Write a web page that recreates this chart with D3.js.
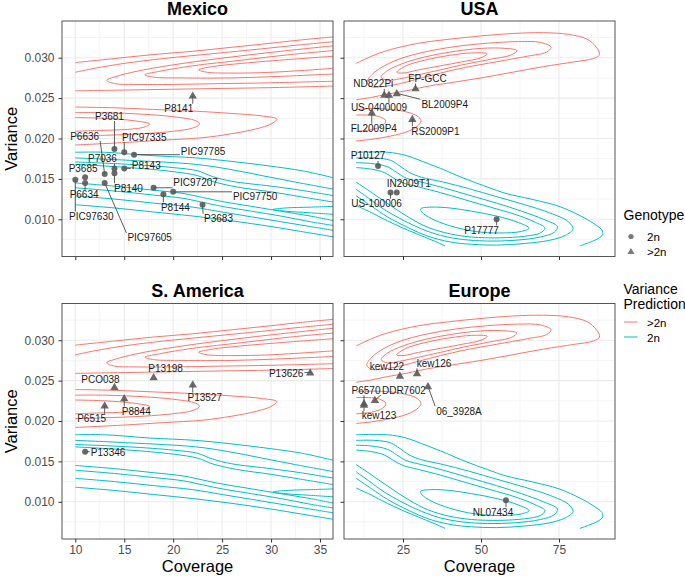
<!DOCTYPE html>
<html><head><meta charset="utf-8">
<script src="https://cdnjs.cloudflare.com/ajax/libs/d3/7.8.5/d3.min.js"></script>
<style>
body{margin:0;background:#fff}
svg{display:block}
text{font-family:Arial,"Liberation Sans",sans-serif}
</style></head>
<body><svg id="chart" width="685" height="580"></svg>
<script>
// ---------------- DATA ----------------
const panelNames = ["Mexico", "USA", "S. America", "Europe"];
const xTicksNarrow = [10, 15, 20, 25, 30, 35];
const xTicksWide = [25, 50, 75];
const yTicks = [0.010, 0.015, 0.020, 0.025, 0.030];
const yTickLabels = ["0.010", "0.015", "0.020", "0.025", "0.030"];
const genotypes = ["2n", ">2n"];
const predictions = [">2n", "2n"];

// density contours (coverage, variance) for Mexico / S. America panels, >2n prediction
const contoursNarrowPoly = [
  [[10,0.0294],[14,0.0299],[18,0.0304],[22,0.0308],[26,0.0313],[30,0.0318],[33,0.0322],[36.5,0.0326]],
  [[10,0.0282],[12,0.0287],[15,0.0293],[19,0.0299],[24,0.0305],[29,0.0311],[33,0.0316],[36.5,0.0320]],
  [[36.5,0.0315],[31,0.0308],[26,0.0301],[21,0.0293],[17,0.0285],[14.5,0.0278],[13.2,0.0272],[14,0.0268],[16,0.0267],[20,0.0267],[25,0.0268],[30,0.0269],[36.5,0.0271]],
  [[36.5,0.0309],[32,0.0304],[27,0.0297],[22,0.0290],[18.5,0.0283],[17.1,0.0279],[18,0.0276],[21,0.0275],[26,0.0275],[31,0.0277],[36.5,0.0280]],
  [[36.5,0.0302],[32,0.0298],[27,0.0293],[24,0.0289],[22.6,0.0285],[23.5,0.0282],[26,0.0281],[30,0.0282],[36.5,0.0287]],
  [[10,0.0259],[15,0.0260],[20,0.0261],[25,0.0262],[30,0.0263],[36.5,0.0265]],
  [[10,0.0239],[14,0.0238],[18,0.0236],[22,0.0234],[26,0.0231],[29,0.0228],[30.6,0.0224],[30,0.0218],[28.5,0.0212],[26,0.0206],[23,0.0201],[19,0.0198],[15,0.0195],[10,0.0192]],
  [[10,0.0232],[13,0.0232],[17,0.0230],[20,0.0227],[22.3,0.0222],[22.7,0.0218],[22,0.0213],[20,0.0209],[17,0.0206],[13,0.0204],[10,0.0203]],
  [[10,0.0226],[13,0.0225],[16,0.0222],[17.6,0.0218],[17,0.0214],[15,0.0211],[12.5,0.0210],[10,0.0209]]
];
// Mexico / S. America panels, 2n prediction
const contoursNarrowDip = [
  [[10,0.0183],[13,0.0183],[17.5,0.0179],[22.3,0.0176],[25.7,0.0172],[29.8,0.0166],[33.2,0.0160],[36.5,0.0151]],
  [[10,0.0176],[15.5,0.0173],[22.3,0.0168],[25.7,0.0162],[29.1,0.0154],[32.5,0.0146],[36.5,0.0137]],
  [[10,0.0171],[15.5,0.0168],[20,0.0164],[22.5,0.0160],[24,0.0153],[26,0.0147],[30,0.0141],[33,0.0136],[36.5,0.0129]],
  [[10,0.0168],[15.5,0.0164],[20,0.0159],[22.5,0.0154],[24,0.0147],[26.5,0.0140],[30,0.0134],[33,0.0128],[36.5,0.0121]],
  [[36.5,0.0116],[34,0.0115],[31.5,0.0114],[30.2,0.0112],[31.5,0.0110],[34,0.0108],[36.5,0.0106]],
  [[10,0.0145],[14,0.0141],[18,0.0136],[21,0.0132],[23,0.0127],[25,0.0122],[28,0.0116],[31,0.0110],[34,0.0104],[36.5,0.0098]],
  [[10,0.0139],[14,0.0135],[18,0.0130],[21,0.0126],[23,0.0121],[25,0.0116],[28,0.0110],[31,0.0104],[34,0.0097],[36.5,0.0092]],
  [[10,0.0129],[14,0.0125],[18,0.0120],[22,0.0115],[25,0.0109],[28,0.0103],[31,0.0097],[34,0.0091],[36.5,0.0086]],
  [[10,0.0118],[14,0.0114],[18,0.0109],[22,0.0104],[26,0.0098],[30,0.0091],[33,0.0085],[36.5,0.0078]]
];
// USA / Europe panels, >2n prediction
const contoursWidePoly = [
  [[10,0.0293],[15,0.0302],[20,0.0309],[30,0.0318],[40,0.0323],[50,0.0327],[60,0.0330],[70,0.0331],[78,0.0329],[84,0.0323],[87,0.0313],[88,0.0304],[86,0.0299],[80,0.0295],[70,0.0289],[60,0.0282],[50,0.0275],[40,0.0269],[32,0.0264],[26,0.0259],[20,0.0255],[15,0.0251],[10,0.0248]],
  [[13.4,0.0269],[15,0.0279],[19,0.0290],[25,0.0300],[33,0.0308],[42,0.0314],[52,0.0318],[62,0.0320],[69,0.0319],[72.5,0.0313],[71,0.0307],[65,0.0302],[55,0.0295],[45,0.0288],[37,0.0281],[30,0.0274],[24,0.0268],[18,0.0264],[15,0.0264],[13.4,0.0269]],
  [[18,0.0276],[20,0.0284],[25,0.0293],[32,0.0301],[40,0.0307],[48,0.0311],[56,0.0312],[61.5,0.0309],[60,0.0304],[53,0.0298],[45,0.0292],[37,0.0285],[30,0.0279],[24,0.0274],[20,0.0272],[18,0.0276]],
  [[23,0.0282],[26,0.0290],[32,0.0297],[40,0.0303],[47,0.0306],[52,0.0305],[50,0.0300],[44,0.0295],[37,0.0290],[30,0.0285],[25,0.0281],[23,0.0282]],
  [[10,0.0236],[15,0.0237],[21,0.0236],[26,0.0233],[29.5,0.0228],[30.8,0.0222],[29.5,0.0215],[26,0.0208],[21,0.0203],[15,0.0199],[10,0.0197]],
  [[10,0.0229],[14,0.0229],[17.5,0.0227],[19.5,0.0222],[18.5,0.0216],[15,0.0211],[10,0.0209]]
];
// USA / Europe panels, 2n prediction
const contoursWideDip = [
  [[10,0.0183],[20,0.0183],[26,0.0179],[31,0.0172],[37,0.0163],[45,0.0150],[52,0.0140],[58,0.0132],[66,0.0125],[75,0.0116],[82,0.0104],[86,0.0095],[88.7,0.0087],[89,0.0081],[87.5,0.0076],[84.5,0.0071],[81.7,0.0067]],
  [[10,0.0117],[15,0.0108],[20,0.0098],[25,0.0089],[30,0.0081],[35,0.0073],[38.5,0.0067]],
  [[10,0.0176],[16,0.0176],[21,0.0173],[24,0.0166],[27,0.0158],[31,0.0152],[38,0.0146],[46,0.0138],[55,0.0128],[64,0.0118],[72,0.0108],[78,0.0097],[79.5,0.0088],[77,0.0080],[72,0.0074],[64,0.0070],[55,0.0068],[47,0.0069],[40,0.0072],[33,0.0079],[27,0.0089],[20,0.0103],[15,0.0116],[10,0.0129]],
  [[10,0.0170],[15,0.0169],[20,0.0165],[23,0.0158],[26,0.0151],[31,0.0146],[38,0.0139],[46,0.0130],[55,0.0120],[63,0.0110],[70,0.0100],[74.5,0.0091],[73.5,0.0084],[69,0.0078],[61,0.0074],[52,0.0073],[44,0.0075],[37,0.0080],[31,0.0088],[25,0.0099],[19,0.0112],[14,0.0126],[10,0.0137]],
  [[10,0.0164],[15,0.0162],[19,0.0158],[22,0.0151],[25,0.0145],[30,0.0140],[37,0.0133],[45,0.0124],[53,0.0115],[61,0.0106],[67,0.0097],[70.5,0.0089],[69,0.0083],[64,0.0079],[56,0.0077],[47,0.0078],[40,0.0082],[33,0.0090],[27,0.0102],[21,0.0117],[15,0.0133],[10,0.0146]],
  [[30.7,0.0113],[34,0.0115],[40,0.0114],[47,0.0110],[55,0.0104],[62,0.0096],[65.4,0.0089],[63,0.0085],[56,0.0083],[48,0.0085],[40,0.0092],[34,0.0101],[31,0.0109],[30.7,0.0113]]
];

// samples: [name, coverage, variance, genotype]
const samplesMexico = [
  ["P8141",22,0.0253,">2n"],["P3681",14,0.0187,"2n"],["PIC97335",15,0.0183,"2n"],["PIC97785",16,0.0180,"2n"],
  ["P6636",13,0.0156,"2n"],["P7036",14,0.0163,"2n"],["P8140",14,0.0157,"2n"],["P8143",15,0.0163,"2n"],
  ["P3685",11,0.0152,"2n"],["P6634",11,0.0145,"2n"],["PIC97630",10,0.0149,"2n"],["PIC97605",13,0.0145,"2n"],
  ["PIC97207",18,0.0139,"2n"],["P8144",19,0.0131,"2n"],["PIC97750",20,0.0134,"2n"],["P3683",23,0.0118,"2n"]
];
const samplesUSA = [
  ["ND822Pi",19,0.0254,">2n"],["US-0400009",20.5,0.0254,">2n"],["BL2009P4",23,0.0256,">2n"],["FP-GCC",29,0.0262,">2n"],
  ["FL2009P4",15,0.0232,">2n"],["RS2009P1",28,0.0224,">2n"],["P10127",17,0.0166,"2n"],["IN2009T1",23,0.0133,"2n"],
  ["US-100006",21,0.0133,"2n"],["P17777",55,0.0100,"2n"]
];
const samplesSAmerica = [
  ["P13198",18,0.0254,">2n"],["PCO038",14,0.0242,">2n"],["P13527",22,0.0245,">2n"],["P13626",34,0.0260,">2n"],
  ["P8844",15,0.0228,">2n"],["P6515",13,0.0219,">2n"],["P13346",11,0.0162,"2n"]
];
const samplesEurope = [
  ["kew122",24,0.0256,">2n"],["kew126",29.5,0.0259,">2n"],["06_3928A",33,0.0243,">2n"],["DDR7602",16,0.0226,">2n"],
  ["P6570",12.5,0.0222,">2n"],["kew123",12.5,0.0220,">2n"],["NL07434",58,0.0102,"2n"]
];

// ---------------- LAYOUT (label offsets in px from point) ----------------
const labelOffsets = {
  "P8141":[-14,13],"P3681":[-5,-33],"PIC97335":[20,-15],"PIC97785":[69,-3],"P6636":[-20,-38],"P7036":[-12,-10],
  "P8140":[14,15],"P8143":[22,-3],"P3685":[-2,-9],"P6634":[-1,12],"PIC97630":[16,37],"PIC97605":[45,55],
  "PIC97207":[42,-5],"P8144":[12,13],"PIC97750":[82,5],"P3683":[16,14],
  "ND822Pi":[-11,-11],"US-0400009":[-10,13],"BL2009P4":[48,11],"FP-GCC":[12,-10],"FL2009P4":[2,16],"RS2009P1":[23,12],
  "P10127":[-10,-10],"IN2009T1":[12,-9],"US-100006":[-14,11],"P17777":[-15,11],
  "P13198":[12,-9],"PCO038":[-14,-8],"P13527":[12,13],"P13626":[-24,1],"P8844":[12,13],"P6515":[-13,13],"P13346":[23,1],
  "kew122":[-13,-9],"kew126":[17,-10],"06_3928A":[31,25],"DDR7602":[29,-10],"P6570":[2,-13],"kew123":[15,11],"NL07434":[-13,12]
};

const RED = "#F8766D", CYAN = "#00BFC4";
const PW = 271, PH = 235.5;
const yDomain = [0.00539, 0.03455];
const panels = [
  {name: panelNames[0], x0: 62, y0: 21, wide: false, xLab: false, yLab: true, samples: samplesMexico},
  {name: panelNames[1], x0: 344, y0: 21, wide: true, xLab: false, yLab: false, samples: samplesUSA},
  {name: panelNames[2], x0: 62, y0: 303.5, wide: false, xLab: true, yLab: true, samples: samplesSAmerica},
  {name: panelNames[3], x0: 344, y0: 303.5, wide: true, xLab: true, yLab: false, samples: samplesEurope}
];

const svg = d3.select("#chart");
const defs = svg.append("defs");

panels.forEach((p, i) => {
  const sx = d3.scaleLinear().domain(p.wide ? [6.09, 92.95] : [8.64, 36.33]).range([p.x0, p.x0 + PW]);
  const sy = d3.scaleLinear().domain(yDomain).range([p.y0 + PH, p.y0]);
  const g = svg.append("g");
  const xt = p.wide ? xTicksWide : xTicksNarrow;
  const xMinor = p.wide ? [12.5, 37.5, 62.5, 87.5] : [12.5, 17.5, 22.5, 27.5, 32.5];
  const yMinor = [0.0075, 0.0125, 0.0175, 0.0225, 0.0275, 0.0325];

  g.append("rect").attr("x", p.x0).attr("y", p.y0).attr("width", PW).attr("height", PH).attr("fill", "#fff");
  g.selectAll(".gxm").data(xMinor).join("line").attr("x1", d => sx(d)).attr("x2", d => sx(d))
    .attr("y1", p.y0).attr("y2", p.y0 + PH).attr("stroke", "#ebebeb").attr("stroke-width", 0.55);
  g.selectAll(".gym").data(yMinor).join("line").attr("y1", d => sy(d)).attr("y2", d => sy(d))
    .attr("x1", p.x0).attr("x2", p.x0 + PW).attr("stroke", "#ebebeb").attr("stroke-width", 0.55);
  g.selectAll(".gx").data(xt).join("line").attr("x1", d => sx(d)).attr("x2", d => sx(d))
    .attr("y1", p.y0).attr("y2", p.y0 + PH).attr("stroke", "#ebebeb").attr("stroke-width", 1.1);
  g.selectAll(".gy").data(yTicks).join("line").attr("y1", d => sy(d)).attr("y2", d => sy(d))
    .attr("x1", p.x0).attr("x2", p.x0 + PW).attr("stroke", "#ebebeb").attr("stroke-width", 1.1);

  defs.append("clipPath").attr("id", "clip" + i).append("rect")
    .attr("x", p.x0).attr("y", p.y0).attr("width", PW).attr("height", PH);
  const cg = g.append("g").attr("clip-path", `url(#clip${i})`);
  const drawSet = (set, color) => {
    set.forEach(c => {
      const closed = c[0][0] === c[c.length - 1][0] && c[0][1] === c[c.length - 1][1];
      const pts = closed ? c.slice(0, -1) : c;
      const line = d3.line().x(d => sx(d[0])).y(d => sy(d[1]))
        .curve(closed ? d3.curveCatmullRomClosed.alpha(0.5) : d3.curveCatmullRom.alpha(0.5));
      cg.append("path").attr("d", line(pts)).attr("fill", "none").attr("stroke", color).attr("stroke-width", 1);
    });
  };
  drawSet(p.wide ? contoursWidePoly : contoursNarrowPoly, RED);
  drawSet(p.wide ? contoursWideDip : contoursNarrowDip, CYAN);

  const lg = g.append("g");
  p.samples.forEach(s => {
    const px = sx(s[1]), py = sy(s[2]);
    const off = labelOffsets[s[0]] || [0, -10];
    const t = lg.append("text").attr("x", px + off[0]).attr("y", py + off[1]).attr("dy", "0.35em")
      .attr("text-anchor", "middle").attr("font-size", 10).attr("fill", "#1a1a1a").text(s[0]);
    const w = t.node().getComputedTextLength(), h = 8;
    const bx0 = px + off[0] - w / 2 - 1, bx1 = px + off[0] + w / 2 + 1;
    const by0 = py + off[1] - h / 2 - 1, by1 = py + off[1] + h / 2 + 1;
    const cx = Math.max(bx0, Math.min(px, bx1)), cy = Math.max(by0, Math.min(py, by1));
    const dist = Math.hypot(cx - px, cy - py);
    if (dist > 4) {
      lg.insert("line", "text").attr("x1", px).attr("y1", py).attr("x2", cx).attr("y2", cy)
        .attr("stroke", "#333").attr("stroke-width", 0.8);
    }
  });
  const pg = g.append("g");
  p.samples.forEach(s => {
    const px = sx(s[1]), py = sy(s[2]);
    if (s[3] === "2n") {
      pg.append("circle").attr("cx", px).attr("cy", py).attr("r", 3).attr("fill", "#595959").attr("fill-opacity", 0.9);
    } else {
      pg.append("path").attr("d", d3.symbol(d3.symbolTriangle, 30)()).attr("transform", `translate(${px},${py + 0.5})`)
        .attr("fill", "#595959").attr("fill-opacity", 0.9);
    }
  });

  g.append("rect").attr("x", p.x0).attr("y", p.y0).attr("width", PW).attr("height", PH)
    .attr("fill", "none").attr("stroke", "#555").attr("stroke-width", 1);

  const ax = g.append("g").attr("transform", `translate(0,${p.y0 + PH})`)
    .call(d3.axisBottom(sx).tickValues(xt).tickSize(3.5).tickPadding(3).tickFormat(p.xLab ? d3.format("d") : () => ""));
  const ay = g.append("g").attr("transform", `translate(${p.x0},0)`)
    .call(d3.axisLeft(sy).tickValues(yTicks).tickSize(3.5).tickPadding(4)
      .tickFormat(p.yLab ? (d, k) => yTickLabels[k] : () => ""));
  [ax, ay].forEach(a => {
    a.select(".domain").remove();
    a.selectAll("line").attr("stroke", "#333");
    a.selectAll("text").attr("fill", "#4d4d4d").attr("font-size", 12).attr("font-family", "Arial, 'Liberation Sans', sans-serif");
  });

  svg.append("text").attr("x", p.x0 + PW / 2).attr("y", p.y0 - 6.5).attr("text-anchor", "middle")
    .attr("font-size", 18).attr("font-weight", "bold").attr("fill", "#000").text(p.name);

  if (p.yLab) {
    svg.append("text").attr("transform", `translate(17,${p.y0 + PH / 2}) rotate(-90)`).attr("text-anchor", "middle")
      .attr("font-size", 16.5).attr("fill", "#000").text("Variance");
  }
  if (p.xLab) {
    svg.append("text").attr("x", p.x0 + PW / 2).attr("y", 572).attr("text-anchor", "middle")
      .attr("font-size", 16.5).attr("fill", "#000").text("Coverage");
  }
});

// ---------------- LEGENDS ----------------
const leg = svg.append("g");
leg.append("text").attr("x", 623.5).attr("y", 220).attr("font-size", 14).attr("fill", "#000").text("Genotype");
leg.append("circle").attr("cx", 631).attr("cy", 236.5).attr("r", 2.6).attr("fill", "#7a7a7a");
leg.append("path").attr("d", d3.symbol(d3.symbolTriangle, 22)()).attr("transform", "translate(631,252)").attr("fill", "#7a7a7a");
leg.append("text").attr("x", 647).attr("y", 240.5).attr("font-size", 11.5).attr("fill", "#000").text(genotypes[0]);
leg.append("text").attr("x", 647).attr("y", 255.5).attr("font-size", 11.5).attr("fill", "#000").text(genotypes[1]);

leg.append("text").attr("x", 623.5).attr("y", 293.5).attr("font-size", 14).attr("fill", "#000").text("Variance");
leg.append("text").attr("x", 623.5).attr("y", 308.5).attr("font-size", 14).attr("fill", "#000").text("Prediction");
leg.append("line").attr("x1", 624).attr("x2", 637.5).attr("y1", 322).attr("y2", 322).attr("stroke", RED).attr("stroke-width", 1);
leg.append("line").attr("x1", 624).attr("x2", 637.5).attr("y1", 337).attr("y2", 337).attr("stroke", CYAN).attr("stroke-width", 1);
leg.append("text").attr("x", 647).attr("y", 326.5).attr("font-size", 11.5).attr("fill", "#000").text(predictions[0]);
leg.append("text").attr("x", 647).attr("y", 341.5).attr("font-size", 11.5).attr("fill", "#000").text(predictions[1]);
</script>
</body></html>
